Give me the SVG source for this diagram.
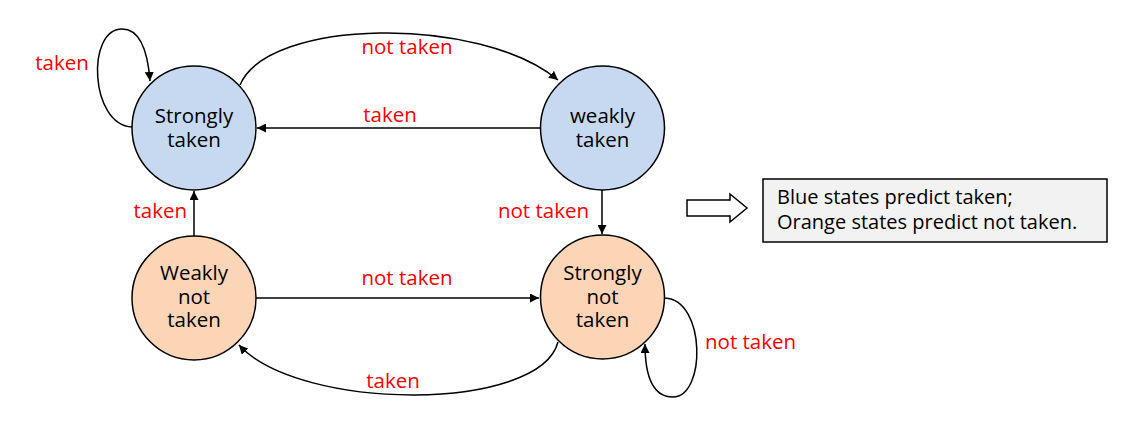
<svg xmlns="http://www.w3.org/2000/svg" width="1131" height="421" viewBox="0 0 1131 421">
<style>
.node{stroke:#000;stroke-width:1.5}
.blue{fill:#c6d9f0}
.orange{fill:#fbd5b5}
.nt{font-family:"Open Sans","Liberation Sans",sans-serif;font-size:20.5px;fill:#000;text-anchor:middle}
.lbl{font-family:"Open Sans","Liberation Sans",sans-serif;font-size:20.5px;fill:#ff0000}
.edge{fill:none;stroke:#000;stroke-width:1.5;marker-end:url(#ah)}
.bt{font-family:"Open Sans","Liberation Sans",sans-serif;font-size:20px;fill:#000}
</style>
<defs>
<marker id="ah" viewBox="0 0 10 10" refX="10" refY="5" markerWidth="9" markerHeight="9" markerUnits="userSpaceOnUse" orient="auto">
<path d="M0,0 L10,5 L0,10 z" fill="#000"/>
</marker>
</defs>
<rect width="1131" height="421" fill="#fff"/>
<g id="connectors">
<path class="edge" d="M132,127 C90,125 86,29 122,29 C142,29 148,55 150,81"/>
<path class="edge" d="M240,85 C268,18 480,15 558,80"/>
<path class="edge" d="M540,128 L257,128"/>
<path class="edge" d="M602,190 L602,234"/>
<path class="edge" d="M194,236 L194,191"/>
<path class="edge" d="M256,298 L539,298"/>
<path class="edge" d="M558,342 C540,412 300,412 239,345"/>
<path class="edge" d="M665,298 C706,300 706,397 673,397 C650,397 645,370 645,344"/>
</g>
<g id="labels">
<text class="lbl" x="62" y="70" text-anchor="middle">taken</text>
<text class="lbl" x="407" y="54" text-anchor="middle">not taken</text>
<text class="lbl" x="390" y="122" text-anchor="middle">taken</text>
<text class="lbl" x="589" y="218" text-anchor="end">not taken</text>
<text class="lbl" x="187" y="218" text-anchor="end">taken</text>
<text class="lbl" x="407" y="285" text-anchor="middle">not taken</text>
<text class="lbl" x="393" y="388" text-anchor="middle">taken</text>
<text class="lbl" x="705" y="349">not taken</text>
</g>
<g id="strongly-taken">
<circle class="node blue" cx="194" cy="128" r="62"/>
<text class="nt" x="194" y="123">Strongly</text>
<text class="nt" x="194" y="147">taken</text>
</g>
<g id="weakly-taken">
<circle class="node blue" cx="602.5" cy="128" r="62"/>
<text class="nt" x="602.5" y="123">weakly</text>
<text class="nt" x="602.5" y="147">taken</text>
</g>
<g id="weakly-not-taken">
<circle class="node orange" cx="194" cy="298" r="62"/>
<text class="nt" x="194" y="280">Weakly</text>
<text class="nt" x="194" y="304">not</text>
<text class="nt" x="194" y="327">taken</text>
</g>
<g id="strongly-not-taken">
<circle class="node orange" cx="602.5" cy="297" r="62"/>
<text class="nt" x="602.5" y="280">Strongly</text>
<text class="nt" x="602.5" y="304">not</text>
<text class="nt" x="602.5" y="327">taken</text>
</g>
<g id="legend-arrow">
<path d="M687,200 L730,200 L730,194 L747,208 L730,222 L730,216 L687,216 z" fill="#fff" stroke="#000" stroke-width="1.5"/>
</g>
<g id="legend">
<rect x="763" y="179" width="344" height="63" fill="#f2f2f2" stroke="#000" stroke-width="1.5"/>
<text class="bt" x="777" y="204">Blue states predict taken;</text>
<text class="bt" x="777" y="229">Orange states predict not taken.</text>
</g>
</svg>
